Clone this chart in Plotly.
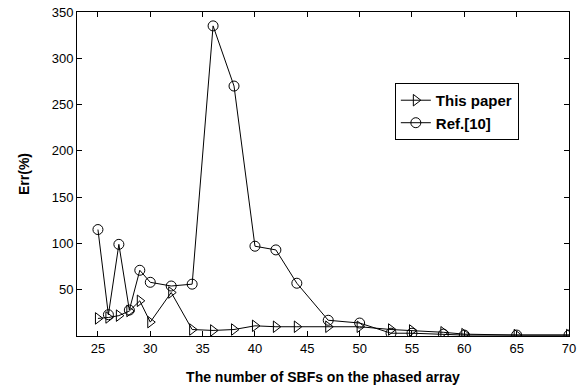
import plotly.graph_objects as go

x_vals = [25, 26, 27, 28, 29, 30, 32, 34, 36, 38, 40, 42, 44, 47, 50, 53, 55, 58, 60, 65, 70]
this_paper = [19, 20, 22, 27, 38, 15, 47, 7, 6, 7, 11, 10, 10, 10, 10, 7, 6, 4, 2, 1, 1]
ref10 = [115, 23, 99, 28, 71, 58, 54, 56, 335, 270, 97, 93, 57, 17, 14, 3, 3, 2, 1, 1, 1]
x_ticks = [25, 30, 35, 40, 45, 50, 55, 60, 65, 70]
y_ticks = [50, 100, 150, 200, 250, 300, 350]

FONT = "Liberation Sans, Arial"

fig = go.Figure()
fig.add_trace(go.Scatter(x=x_vals, y=this_paper, mode="lines+markers", name="This paper",
                         line=dict(color="black", width=1),
                         marker=dict(symbol="triangle-right-open", size=10, color="black", line=dict(width=1))))
fig.add_trace(go.Scatter(x=x_vals, y=ref10, mode="lines+markers", name="Ref.[10]",
                         line=dict(color="black", width=1),
                         marker=dict(symbol="circle-open", size=10, color="black", line=dict(width=1))))

axis_common = dict(showline=True, linecolor="black", linewidth=1, mirror="ticks", ticks="inside",
                   ticklen=5, tickcolor="black", showgrid=False, zeroline=False, automargin=False,
                   tickfont=dict(family=FONT, size=13, color="black"))
fig.update_layout(
    width=583, height=390,
    margin=dict(l=77, r=14, t=12, b=54),
    paper_bgcolor="white", plot_bgcolor="white",
    xaxis=dict(range=[23, 70], tickvals=x_ticks,
               title=dict(text="The number of SBFs on the phased array",
                          font=dict(family=FONT, size=14, color="black", weight="bold"), standoff=17),
               **axis_common),
    yaxis=dict(range=[0, 350], tickvals=y_ticks,
               title=dict(text="Err(%)",
                          font=dict(family=FONT, size=14, color="black", weight="bold"), standoff=18),
               **axis_common),
    legend=dict(x=0.646, y=0.781, xanchor="left", yanchor="top",
                bordercolor="black", borderwidth=1, bgcolor="white",
                font=dict(family=FONT, size=15, color="black", weight="bold"),
                tracegroupgap=0),
    showlegend=True,
)
fig.write_html("out.html")
